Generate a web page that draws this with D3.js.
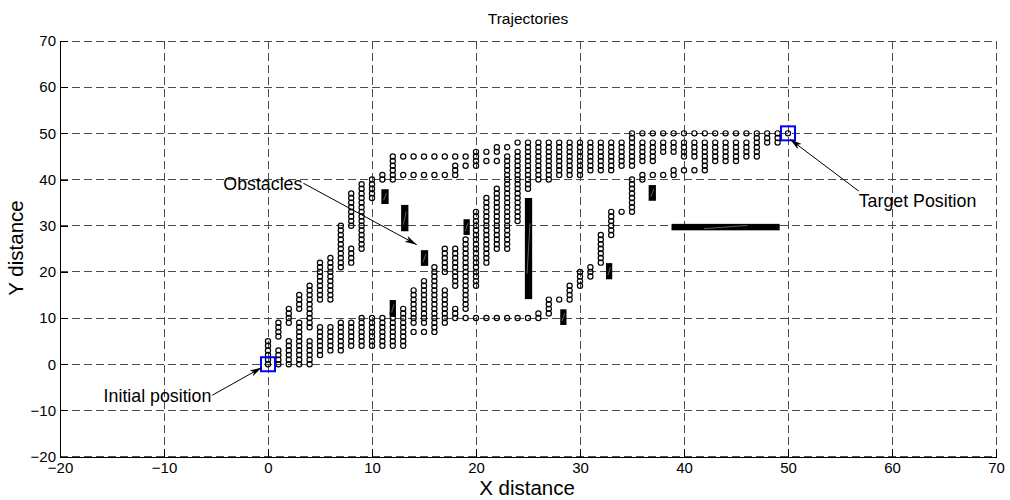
<!DOCTYPE html>
<html><head>
<meta charset="utf-8">
<style>
body { margin: 0; background: #fff; }
text { font-family: "Liberation Sans", Arial, sans-serif; }
.axis path, .axis line { stroke: #000; shape-rendering: crispEdges; }
.axis text { font-size: 15px; fill: #000; }
.grid line { stroke: #4a4a4a; stroke-dasharray: 8,4; shape-rendering: crispEdges; }
</style>
</head><body>
<script src="https://d3js.org/d3.v7.min.js"></script>
<script>

var xTicks = [-20, -10, 0, 10, 20, 30, 40, 50, 60, 70];
var yTicks = [-20, -10, 0, 10, 20, 30, 40, 50, 60, 70];

// trajectory samples: one column per x, runs of y values (one circle per unit)
var colX = [0, 1, 2, 3, 4, 5, 6, 7, 8, 9, 10, 11, 12, 13, 14, 15, 16, 17, 18, 19, 20,
            21, 22, 23, 24, 25, 26, 27, 28, 29, 30, 31, 32, 33, 34, 35, 36, 37, 38, 39, 40,
            41, 42, 43, 44, 45, 46, 47, 48, 49, 50];
var colRuns = [
  [[0, 5]],
  [[0, 3], [6, 9]],
  [[0, 5], [9, 12]],
  [[0, 9], [12, 15]],
  [[0, 5], [8, 17]],
  [[2, 8], [14, 22]],
  [[3, 8], [14, 23]],
  [[3, 9], [21, 30]],
  [[4, 9], [22, 25], [30, 37]],
  [[4, 10], [25, 39]],
  [[4, 10], [36, 40]],
  [[4, 10], [40, 41]],
  [[4, 11], [40, 45]],
  [[4, 12], [41, 41], [45, 45]],
  [[7, 7], [9, 16], [41, 41], [45, 45]],
  [[7, 7], [9, 18], [41, 41], [45, 45]],
  [[7, 21], [41, 41], [45, 45]],
  [[9, 16], [20, 25], [41, 41], [45, 45]],
  [[10, 12], [17, 25], [41, 43], [45, 45]],
  [[10, 10], [12, 27], [43, 43], [45, 45]],
  [[10, 10], [17, 33], [43, 46]],
  [[10, 10], [22, 36], [44, 44], [46, 46]],
  [[10, 10], [25, 38], [44, 44], [46, 47]],
  [[10, 10], [25, 45], [47, 47]],
  [[10, 10], [31, 46], [48, 48]],
  [[10, 10], [38, 48]],
  [[10, 11], [40, 48]],
  [[11, 14], [40, 48]],
  [[14, 14], [41, 48]],
  [[14, 17], [41, 48]],
  [[17, 20], [41, 48]],
  [[19, 21], [42, 48]],
  [[22, 28], [42, 48]],
  [[28, 33], [42, 48]],
  [[33, 33], [43, 48]],
  [[33, 40], [43, 50]],
  [[40, 41], [44, 48], [50, 50]],
  [[41, 41], [44, 48], [50, 50]],
  [[41, 41], [46, 48], [50, 50]],
  [[41, 42], [46, 48], [50, 50]],
  [[42, 42], [45, 48], [50, 50]],
  [[42, 42], [45, 48], [50, 50]],
  [[42, 48], [50, 50]],
  [[44, 48], [50, 50]],
  [[44, 48], [50, 50]],
  [[44, 48], [50, 50]],
  [[45, 48], [50, 50]],
  [[45, 50]],
  [[48, 50]],
  [[48, 50]],
  [[50, 50]]
];

// obstacles (data units)
var obsX0 = [10.9, 12.8, 14.7, 11.7, 18.8, 24.7, 28.1, 32.5, 36.6, 38.8];
var obsX1 = [11.6, 13.5, 15.4, 12.3, 19.4, 25.4, 28.7, 33.1, 37.3, 49.2];
var obsY0 = [34.7, 28.8, 21.3, 10.3, 28.0, 14.1, 8.5, 18.4, 35.4, 29.0];
var obsY1 = [37.9, 34.5, 24.7, 13.9, 31.4, 36.0, 11.9, 21.9, 38.8, 30.4];

// start / target markers
var markX = [0, 50];
var markY = [0, 50];

// annotations
var noteLabels = ["Obstacles", "Initial position", "Target Position"];
var noteTail = [[3.4, 39.2], [-5.35, -6.7], [56.8, 37.5]];
var noteHead = [[14.3, 25.9], [-0.6, -0.7], [50.2, 48.7]];

var width = 1010, height = 500;

var x = d3.scaleLinear().domain([-20, 70]).range([60, 996]);
var y = d3.scaleLinear().domain([-20, 70]).range([456.6, 41]);

var svg = d3.select("body").append("svg")
    .attr("width", width)
    .attr("height", height);

svg.append("defs").append("marker")
    .attr("id", "head")
    .attr("viewBox", "0 0 12 10")
    .attr("refX", 12).attr("refY", 5)
    .attr("markerWidth", 12).attr("markerHeight", 10)
    .attr("markerUnits", "userSpaceOnUse")
    .attr("orient", "auto")
  .append("path")
    .attr("d", "M0,1.8L12,5L0,8.2L3,5Z")
    .attr("fill", "#000");

// grid
var grid = svg.append("g").attr("class", "grid");
grid.selectAll(".gx").data(xTicks).enter().append("line")
    .attr("x1", function(d) { return x(d); })
    .attr("x2", function(d) { return x(d); })
    .attr("y1", y(-20)).attr("y2", y(70));
grid.selectAll(".gy").data(yTicks).enter().append("line")
    .attr("y1", function(d) { return y(d); })
    .attr("y2", function(d) { return y(d); })
    .attr("x1", x(-20)).attr("x2", x(70));

// trajectory circles
var pts = [];
colX.forEach(function(cx, i) {
  colRuns[i].forEach(function(r) {
    for (var v = r[0]; v <= r[1]; v++) pts.push([cx, v]);
  });
});

svg.append("g").selectAll("circle")
    .data(pts)
  .enter().append("circle")
    .attr("cx", function(d) { return x(d[0]); })
    .attr("cy", function(d) { return y(d[1]); })
    .attr("r", 2.6)
    .attr("fill", "none")
    .attr("stroke", "#000")
    .attr("stroke-width", 1.2);

// obstacles
var obs = svg.append("g");
obsX0.forEach(function(d, i) {
  var rx = x(obsX0[i]), rw = x(obsX1[i]) - x(obsX0[i]);
  var ry = y(obsY1[i]), rh = y(obsY0[i]) - y(obsY1[i]);
  obs.append("rect")
      .attr("x", rx).attr("y", ry)
      .attr("width", rw).attr("height", rh)
      .attr("fill", "#000");
  obs.append("line")
      .attr("x1", rx + rw * 0.3).attr("y1", ry + rh * 0.75)
      .attr("x2", rx + rw * 0.7).attr("y2", ry + rh * 0.25)
      .attr("stroke", "#777")
      .attr("stroke-width", 0.8);
});

// start / target squares
svg.append("g").selectAll("rect")
    .data(markX)
  .enter().append("rect")
    .attr("x", function(d) { return x(d) - 7; })
    .attr("y", function(d, i) { return y(markY[i]) - 7; })
    .attr("width", 14).attr("height", 14)
    .attr("fill", "none")
    .attr("stroke", "#0000ff")
    .attr("stroke-width", 2);

// axes (left + bottom only, ticks inside)
svg.append("g")
    .attr("class", "axis")
    .attr("transform", "translate(" + x(-20) + ",0)")
    .call(d3.axisLeft(y).tickValues(yTicks).tickSizeInner(-8).tickSizeOuter(0).tickPadding(4));

svg.append("g")
    .attr("class", "axis")
    .attr("transform", "translate(0," + y(-20) + ")")
    .call(d3.axisBottom(x).tickValues(xTicks).tickSizeInner(-8).tickSizeOuter(0).tickPadding(6));

// annotations
noteLabels.forEach(function(t, i) {
  var tx = x(noteTail[i][0]), ty = y(noteTail[i][1]);
  svg.append("line")
      .attr("x1", tx).attr("y1", ty)
      .attr("x2", x(noteHead[i][0])).attr("y2", y(noteHead[i][1]))
      .attr("stroke", "#000")
      .attr("stroke-width", 1)
      .attr("marker-end", "url(#head)");
  var right = i === 2;
  svg.append("text")
      .attr("x", right ? tx : tx - 1)
      .attr("y", right ? ty + 10 : ty + 1)
      .attr("dy", "0.35em")
      .attr("text-anchor", right ? "start" : "end")
      .style("font-size", "17.8px")
      .text(t);
});

// titles
svg.append("text")
    .attr("x", 528).attr("y", 24)
    .attr("text-anchor", "middle")
    .style("font-size", "15.5px")
    .text("Trajectories");

svg.append("text")
    .attr("x", 527).attr("y", 495)
    .attr("text-anchor", "middle")
    .style("font-size", "20.5px")
    .text("X distance");

svg.append("text")
    .attr("transform", "translate(23,248)rotate(-90)")
    .attr("text-anchor", "middle")
    .style("font-size", "20.5px")
    .text("Y distance");

</script>
</body></html>
